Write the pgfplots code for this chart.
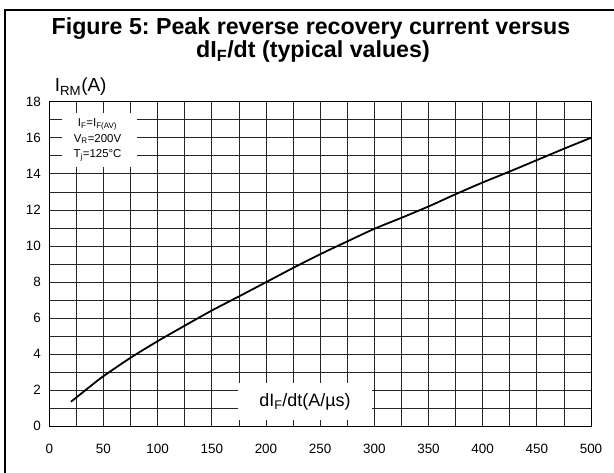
\documentclass[border=0pt]{standalone}
\usepackage{pgfplots}
\pgfplotsset{compat=1.18}
\usepackage{fontspec}
\setmainfont{Liberation Sans}
\frenchspacing
\pgfplotstableread{
x y
20 1.36
30 1.84
40 2.32
50 2.78
75 3.80
100 4.72
125 5.58
150 6.42
175 7.20
200 7.99
225 8.78
250 9.54
275 10.25
300 10.95
325 11.56
350 12.19
375 12.87
400 13.52
425 14.13
450 14.76
475 15.39
500 16.00
}\curve
\begin{document}
\begin{tikzpicture}[x=1bp,y=1bp]
\useasboundingbox (0,0) rectangle (614,473);
\draw[line width=2bp] (5,0) -- (5,463) -- (614,463);
\node[font=\bfseries\fontsize{23.3}{24}\selectfont, anchor=base] at (311,438) {Figure 5: Peak reverse recovery current versus};
\node[font=\bfseries\fontsize{23.3}{24}\selectfont, anchor=base] at (313,415) {dI\textsubscript{F}/dt (typical values)};
\begin{axis}[
  at={(49.3bp,46.7bp)}, anchor=south west,
  scale only axis, width=541.7bp, height=324.6bp,
  xmin=0, xmax=500, ymin=0, ymax=18,
  xtick={0,50,...,500}, ytick={0,2,...,18},
  minor xtick={25,75,...,475}, minor ytick={1,3,...,17},
  grid=both,
  major grid style={black!85, line width=0.7bp},
  minor grid style={black!85, line width=0.7bp},
  major tick length=0pt, minor tick length=0pt,
  axis line style={black, line width=0.9bp},
  ticklabel style={font=\fontsize{13.5}{14}\selectfont},
  /pgf/number format/assume math mode=true,
  x tick label style={yshift=-14bp},
  y tick label style={xshift=-5bp},
  clip=false,
]
\addplot[black, line width=1.8bp, smooth] table[x=x,y=y] {\curve};
\node[fill=white, inner sep=0pt, minimum width=134bp, minimum height=37bp,
      font=\fontsize{18}{20}\selectfont] at (axis cs:236,1.35) {dI\textsubscript{F}/dt(A/µs)};
\node[fill=white, inner sep=0pt, minimum width=75bp, minimum height=54bp] at (axis cs:46.3,15.88) {};
\node[font=\fontsize{11.5}{15.5}\selectfont, align=center] at (axis cs:44.5,15.88)
  {I\textsubscript{F}=I\textsubscript{F(AV)}\\V\textsubscript{R}=200V\\T\textsubscript{j}=125°C};
\node[anchor=base west, font=\fontsize{19}{20}\selectfont, inner sep=0pt] at (rel axis cs:0.01,1.03)
  {I\textsubscript{RM}(A)};
\end{axis}
\end{tikzpicture}
\end{document}
